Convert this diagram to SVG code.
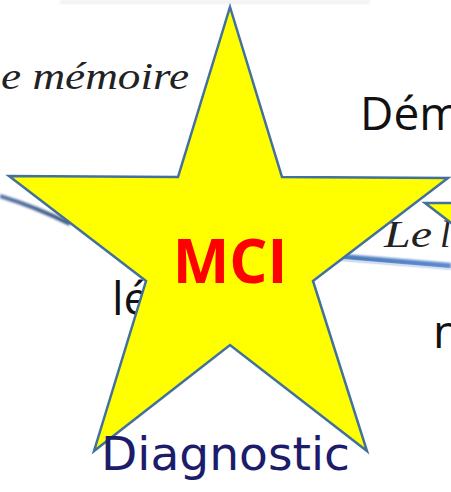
<svg xmlns="http://www.w3.org/2000/svg" width="451" height="492" viewBox="0 0 451 492">
  <defs>
    <style>
      .sans { font-family: "Open Sans", "Liberation Sans", sans-serif; fill: #111; }
      .serif-it { font-family: "Liberation Serif", "DejaVu Serif", serif; font-style: italic; fill: #222; }
      .star { fill: #ffff00; stroke: #41719c; stroke-width: 2.5; stroke-linejoin: miter; }
      .dx { font-family: "DejaVu Sans", "Liberation Sans", sans-serif; fill: #1c1c6a; }
    </style>
    <linearGradient id="lineL" x1="0" y1="0" x2="1" y2="0">
      <stop offset="0" stop-color="#5a78a8"/>
      <stop offset="1" stop-color="#3b5683"/>
    </linearGradient>
    <linearGradient id="lineR" x1="0" y1="0" x2="1" y2="0">
      <stop offset="0" stop-color="#4a78b8"/>
      <stop offset="1" stop-color="#5b8ad0"/>
    </linearGradient>
    <filter id="soft" x="-10%" y="-50%" width="120%" height="200%">
      <feGaussianBlur stdDeviation="0.8"/>
    </filter>
  </defs>

  <rect width="451" height="492" fill="#ffffff"/>

  <!-- faint remnant band along the top edge -->
  <rect x="60" y="0" width="310" height="4" fill="#e6e6e6" opacity="0.5" filter="url(#soft)"/>

  <!-- connectors -->
  <g id="connectors">
    <path d="M0,196 Q36,207 70,224" fill="none" stroke="url(#lineL)" stroke-width="4" filter="url(#soft)"/>
    <path d="M330,256 L451,266" fill="none" stroke="url(#lineR)" stroke-width="6" filter="url(#soft)"/>
    <path d="M335,259 L451,269" fill="none" stroke="#dfe9f6" stroke-width="1.5" opacity="0.8"/>
  </g>

  <!-- background labels -->
  <g id="label-memoire">
    <text class="serif-it" x="1" y="89" font-size="38" textLength="188" lengthAdjust="spacingAndGlyphs">e mémoire</text>
  </g>
  <g id="label-dem">
    <text class="sans" x="360" y="130" font-size="46">Dém</text>
  </g>
  <g id="label-le">
    <text class="serif-it" y="247" font-size="38"><tspan x="384" textLength="48" lengthAdjust="spacingAndGlyphs">Le</tspan><tspan x="440">l</tspan></text>
  </g>
  <g id="label-leger">
    <text class="sans" x="112" y="315" font-size="46">lé</text>
  </g>
  <g id="label-n">
    <text class="sans" x="433" y="348" font-size="46">n</text>
  </g>

  <!-- second star, partly out of frame -->
  <g id="star-2">
    <polygon class="star" points="425,203 520,203 520,290 480,245"/>
  </g>

  <!-- main star -->
  <g id="star-mci">
    <polygon class="star" points="230,7 282,177 448,178 313,281 367,451 230,345 94,451 146,281 9,176 178,177"/>
    <text x="230" y="283" text-anchor="middle" font-family="Open Sans, Liberation Sans, sans-serif" font-weight="700" font-size="60" fill="#ff0000">MCI</text>
  </g>

  <g id="label-diagnostic">
    <text class="dx" x="101" y="470" font-size="47" textLength="249" lengthAdjust="spacingAndGlyphs">Diagnostic</text>
  </g>
</svg>
